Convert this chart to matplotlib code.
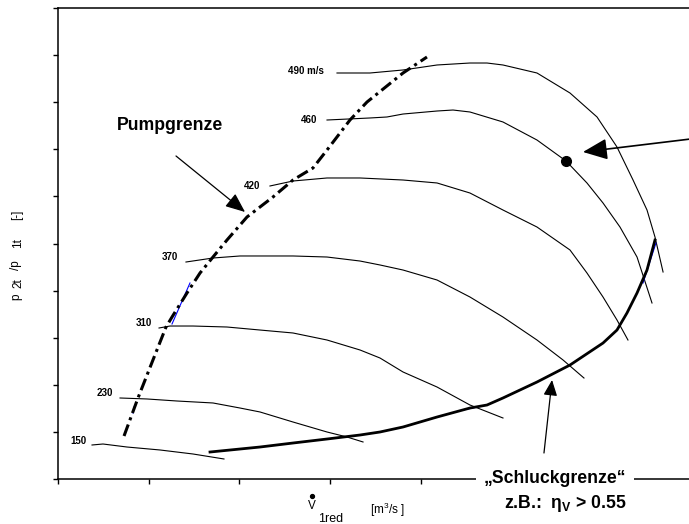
import numpy as np
import matplotlib
matplotlib.use("Agg")
import matplotlib.pyplot as plt
from matplotlib.lines import Line2D

plt.rcParams['font.family'] = ['Liberation Sans', 'DejaVu Sans']
plt.rcParams['mathtext.fontset'] = 'custom'
plt.rcParams['mathtext.rm'] = 'Liberation Sans'
plt.rcParams['mathtext.it'] = 'Liberation Sans:italic'
plt.rcParams['mathtext.bf'] = 'Liberation Sans:bold'

# Kennfeld-Daten, x: V1red in Teilstrichen, y: p2t/p1t in Teilstrichen
speed_labels = ["150", "230", "310", "370", "420", "460", "490 m/s"]

x150 = [0.375, 0.496, 0.761, 1.125, 1.488, 1.830]
y150 = [0.722, 0.743, 0.679, 0.616, 0.531, 0.425]

x230 = [0.684, 0.981, 1.312, 1.709, 2.007, 2.227, 2.591, 2.966, 3.186, 3.363]
y230 = [1.720, 1.699, 1.656, 1.614, 1.507, 1.423, 1.210, 0.998, 0.892, 0.786]

x310 = [1.114, 1.235, 1.488, 1.863, 2.227, 2.591, 2.966, 3.330, 3.550, 3.804, 4.179, 4.542, 4.906]
y310 = [3.206, 3.248, 3.248, 3.227, 3.163, 3.100, 2.951, 2.739, 2.569, 2.272, 1.953, 1.571, 1.295]

x370 = [1.411, 1.709, 2.007, 2.591, 2.966, 3.330, 3.550, 3.804, 4.179, 4.542, 4.906, 5.281, 5.568, 5.799]
y370 = [4.607, 4.692, 4.735, 4.735, 4.713, 4.628, 4.544, 4.437, 4.225, 3.864, 3.439, 2.951, 2.527, 2.144]

x420 = [2.337, 2.591, 2.966, 3.330, 3.804, 4.179, 4.542, 4.906, 5.281, 5.645, 5.832, 6.009, 6.163, 6.284]
y420 = [6.221, 6.327, 6.391, 6.391, 6.348, 6.285, 6.072, 5.711, 5.350, 4.862, 4.374, 3.864, 3.376, 2.951]

x460 = [2.966, 3.440, 3.627, 3.804, 4.179, 4.355, 4.542, 4.906, 5.281, 5.601, 5.832, 6.009, 6.196, 6.384, 6.549]
y460 = [7.622, 7.665, 7.686, 7.749, 7.813, 7.834, 7.792, 7.580, 7.197, 6.752, 6.285, 5.860, 5.350, 4.713, 3.737]

x490 = [3.076, 3.440, 3.804, 4.179, 4.542, 4.730, 4.906, 5.281, 5.645, 5.943, 6.163, 6.340, 6.494, 6.582, 6.671]
y490 = [8.620, 8.620, 8.684, 8.790, 8.832, 8.832, 8.790, 8.620, 8.195, 7.686, 7.049, 6.348, 5.711, 5.138, 4.395]

speed_x = [x150, x230, x310, x370, x420, x460, x490]
speed_y = [y150, y230, y310, y370, y420, y460, y490]
label_x = [0.309, 0.606, 1.036, 1.323, 2.227, 2.856, 2.933]
label_y = [0.807, 1.826, 3.312, 4.713, 6.221, 7.622, 8.662]

# Pumpgrenze
surge_x = [0.728, 0.882, 1.047, 1.191, 1.257, 1.422, 1.566, 1.709, 1.863, 2.084,
           2.370, 2.591, 2.811, 2.966, 3.219, 3.407, 3.804, 4.068]
surge_y = [0.913, 1.720, 2.527, 3.227, 3.439, 3.949, 4.374, 4.713, 5.074, 5.563,
           5.987, 6.348, 6.603, 6.985, 7.622, 8.004, 8.620, 8.960]

# Schluckgrenze
choke_x = [1.676, 2.227, 2.591, 2.966, 3.330, 3.550, 3.804, 4.179, 4.542, 4.730,
           4.906, 5.281, 5.645, 6.009, 6.163, 6.273, 6.384, 6.494, 6.582]
choke_y = [0.573, 0.679, 0.764, 0.849, 0.934, 0.998, 1.104, 1.316, 1.507, 1.571,
           1.720, 2.059, 2.420, 2.887, 3.163, 3.524, 3.949, 4.437, 5.074]

# kleine blaue Reste im Original
blue_x = [[1.257, 1.455], [0.827, 0.838], [4.465, 4.730], [6.450, 6.593]]
blue_y = [[3.291, 4.161], [1.401, 1.529], [1.465, 1.571], [4.161, 5.011]]

# Betriebspunkt
op_x, op_y = 5.601, 6.752

fig = plt.figure(figsize=(6.89, 5.24), dpi=100)
ax = fig.add_axes([58 / 689, 1 - 479 / 524, 7 * 90.7 / 689, 471 / 524])

for xs, ys in zip(speed_x, speed_y):
    ax.plot(xs, ys, color="black", lw=0.8)
for lab, lx, ly in zip(speed_labels, label_x, label_y):
    ax.text(lx, ly, lab, ha="right", va="center", fontsize=7, fontweight="bold")

for bx, by in zip(blue_x, blue_y):
    ax.plot(bx, by, color="blue", lw=0.8)

ax.plot(surge_x, surge_y, color="black", lw=2.2, linestyle=(0, (4, 1.5, 1, 1.5)))
ax.plot(choke_x, choke_y, color="black", lw=2.0)
ax.plot(op_x, op_y, "o", color="black", markersize=7)

ax.text(1.235, 7.495, "Pumpgrenze", ha="center", va="center",
        fontsize=12.7, fontweight="bold")
ax.annotate("", xy=(2.062, 5.669), xytext=(1.301, 6.858),
            arrowprops=dict(arrowstyle="-|>,head_length=1.2,head_width=0.5",
                            color="black", lw=0.9, shrinkA=0, shrinkB=0))
ax.annotate("", xy=(5.788, 6.943), xytext=(6.98, 7.22), annotation_clip=False,
            arrowprops=dict(arrowstyle="-|>,head_length=1.5,head_width=0.65",
                            color="black", lw=1.2, shrinkA=0, shrinkB=0))
ax.annotate("", xy=(5.447, 2.102), xytext=(5.358, 0.552),
            arrowprops=dict(arrowstyle="-|>,head_length=0.95,head_width=0.42",
                            color="black", lw=0.9, shrinkA=0, shrinkB=0))

ax.text(5.48, -0.085, "\u201eSchluckgrenze\u201c", ha="center", va="baseline",
        fontsize=12.7, fontweight="bold", clip_on=False, zorder=5,
        bbox=dict(boxstyle="square,pad=0.45", fc="white", ec="none"))
ax.text(6.273, -0.616, r"z.B.:  $\mathregular{\eta_V}$ > 0.55", ha="right",
        va="baseline", fontsize=12.7, fontweight="bold", clip_on=False)

ax.set_xlim(0, 7)
ax.set_ylim(0, 10)
ax.set_xticks(np.arange(0, 8))
ax.set_yticks(np.arange(0, 11))
ax.set_xticklabels([])
ax.set_yticklabels([])
ax.tick_params(direction="out", length=3.5, width=1)
ax.spines["right"].set_visible(False)
for s in ["left", "bottom", "top"]:
    ax.spines[s].set_linewidth(1.1)

# Achsenbeschriftungen
fig.text(308 / 689, 1 - 509 / 524, "V", fontsize=8.5, ha="left", va="baseline")
fig.add_artist(Line2D([312 / 689], [1 - 496 / 524], marker="o", markersize=2.8,
                      color="black", transform=fig.transFigure))
fig.text(318 / 689, 1 - 522 / 524, "1red", fontsize=9, ha="left", va="baseline")
fig.text(370 / 689, 1 - 514 / 524, r"[m$^{\mathregular{3}}$/s ]", fontsize=8.5,
         ha="left", va="baseline")

ylab_parts = ["p", "2t", "/p", "1t", "[-]"]
ylab_pos = [297, 283, 265, 243, 215]
ylab_x = [16, 18, 16, 18, 17]
for t, py, px in zip(ylab_parts, ylab_pos, ylab_x):
    fig.text(px / 689, 1 - py / 524, t, fontsize=8.5, rotation=90,
             ha="center", va="center")

plt.savefig("out.png", dpi=100)
